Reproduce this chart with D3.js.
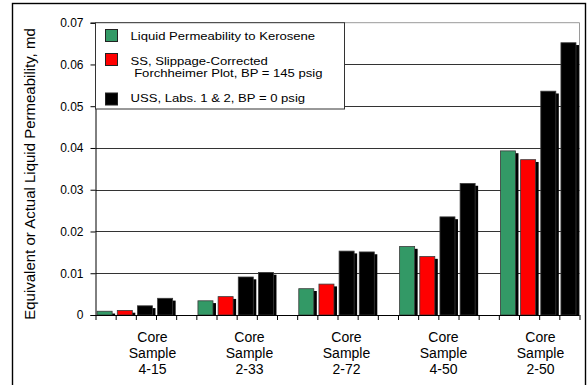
<!DOCTYPE html>
<html>
<head>
<meta charset="utf-8">
<script src="https://cdn.jsdelivr.net/npm/d3@7"></script>
<style>
  html, body { margin: 0; padding: 0; background: #fff; }
  svg { display: block; font-family: "Liberation Sans", Arial, sans-serif; }
</style>
</head>
<body>
<svg id="chart" width="588" height="385"></svg>
<script>
// Core samples and measured permeabilities (md)
const categories = ["4-15", "2-33", "2-72", "4-50", "2-50"];
const kerosene   = [0.0009, 0.0034, 0.0063, 0.0164, 0.0393];
const ssCorrected = [0.0011, 0.0044, 0.0074, 0.0140, 0.0372];
const ussLab1    = [0.0022, 0.0091, 0.0153, 0.0235, 0.0536];
const ussLab2    = [0.0040, 0.0102, 0.0151, 0.0315, 0.0652];
const yTicks = [0, 0.01, 0.02, 0.03, 0.04, 0.05, 0.06, 0.07];
const legendLabels = [
  ["Liquid Permeability to Kerosene"],
  ["SS, Slippage-Corrected", " Forchheimer Plot, BP = 145 psig"],
  ["USS, Labs. 1 & 2, BP = 0 psig"]
];

const series = [
  { values: kerosene,    color: "#339966" },
  { values: ssCorrected, color: "#ff0000" },
  { values: ussLab1,     color: "#000000" },
  { values: ussLab2,     color: "#000000" }
];

const svg = d3.select("#chart");
const plot = { left: 95.5, right: 579.5, top: 22.7, bottom: 315 };
const slotsPerGroup = 5;           // four bars plus one empty spacer slot
const nSlots = categories.length * slotsPerGroup - 1;

// chart frame
svg.append("rect")
  .attr("x", 12.5).attr("y", 3.5)
  .attr("width", 573).attr("height", 395)
  .attr("fill", "#fff").attr("stroke", "#000").attr("stroke-width", 1.4);

const y = d3.scaleLinear().domain([0, 0.07]).range([plot.bottom, plot.top]);
const xSlot = d3.scaleLinear().domain([0, nSlots]).range([plot.left, plot.right]);
const slotW = xSlot(1) - xSlot(0);
const xLabel = d3.scalePoint().domain(categories).range([152.5, 540.5]);

// plot area border (top & right)
svg.append("path")
  .attr("d", `M${plot.left},${plot.top}H${plot.right}V${plot.bottom}`)
  .attr("fill", "none").attr("stroke", "#9a9a9a").attr("stroke-width", 1);

// horizontal gridlines
svg.append("g").selectAll("line")
  .data(yTicks.filter(v => v > 0 && v < 0.07))
  .join("line")
  .attr("x1", plot.left).attr("x2", plot.right)
  .attr("y1", d => Math.round(y(d)) + 0.5).attr("y2", d => Math.round(y(d)) + 0.5)
  .attr("stroke", "#333").attr("stroke-width", 1);

// bars with drop shadow
const bars = [];
series.forEach((s, si) => {
  s.values.forEach((v, gi) => {
    bars.push({ slot: gi * slotsPerGroup + si, value: v, color: s.color });
  });
});
const barW = slotW * 0.745;
const barOff = slotW * 0.08;
const gBars = svg.append("g");
gBars.selectAll("rect.shadow")
  .data(bars).join("rect").attr("class", "shadow")
  .attr("x", d => xSlot(d.slot) + barOff + 3)
  .attr("y", d => y(d.value) + 2.3)
  .attr("width", barW)
  .attr("height", d => Math.max(0, y(0) - y(d.value) - 2.3))
  .attr("fill", "#000");
gBars.selectAll("rect.bar")
  .data(bars).join("rect").attr("class", "bar")
  .attr("x", d => xSlot(d.slot) + barOff)
  .attr("y", d => y(d.value))
  .attr("width", barW)
  .attr("height", d => y(0) - y(d.value))
  .attr("fill", d => d.color)
  .attr("stroke", "#3a3a3a").attr("stroke-width", 0.8);

// y axis
const yAxis = d3.axisLeft(y).tickValues(yTicks).tickSize(5).tickPadding(7)
  .tickFormat(d => d === 0 ? "0" : d3.format(".2f")(d));
const gy = svg.append("g").attr("transform", `translate(${plot.left},0)`).call(yAxis);
gy.select(".domain").attr("stroke", "#000");
gy.selectAll(".tick line").attr("stroke", "#000");
gy.selectAll(".tick text").attr("font-size", 12).attr("font-family", "Liberation Sans, Arial, sans-serif").attr("fill", "#000");

// x axis: one tick per slot boundary
const xAxis = d3.axisBottom(xSlot).tickValues(d3.range(nSlots + 1)).tickSize(5).tickFormat("");
const gx = svg.append("g").attr("transform", `translate(0,${plot.bottom})`).call(xAxis);
gx.select(".domain").attr("stroke", "#000").attr("d", `M${plot.left},0.5H${plot.right}`);
gx.selectAll(".tick line").attr("stroke", "#000");

// category labels
const gLab = svg.append("g").attr("font-size", 14).attr("text-anchor", "middle").attr("fill", "#000");
categories.forEach(c => {
  const t = gLab.append("text").attr("x", xLabel(c)).attr("y", 341.7);
  ["Core", "Sample", c].forEach((line, i) => {
    t.append("tspan").attr("x", xLabel(c)).attr("dy", i === 0 ? 0 : 16.3).text(line);
  });
});

// y axis title
svg.append("text")
  .attr("transform", "translate(35,174) rotate(-90)")
  .attr("text-anchor", "middle").attr("font-size", 15).attr("fill", "#000")
  .text("Equivalent or Actual Liquid Permeability, md");

// legend
const lg = svg.append("g");
lg.append("rect")
  .attr("x", plot.left).attr("y", plot.top)
  .attr("width", 344.5 - plot.left).attr("height", 109 - plot.top)
  .attr("fill", "#fff").attr("stroke", "#333").attr("stroke-width", 1);
const swatchY = [29.5, 53.5, 93];
const textY = [[40], [65, 77.3], [101.7]];
series.slice(0, 3).forEach((s, i) => {
  lg.append("rect")
    .attr("x", 105.5).attr("y", swatchY[i]).attr("width", 12).attr("height", 12)
    .attr("fill", s.color).attr("stroke", "#222").attr("stroke-width", 1);
  legendLabels[i].forEach((line, j) => {
    // legend type is set slightly wide: 11px glyphs stretched horizontally
    lg.append("text")
      .attr("transform", `translate(130.5,${textY[i][j]}) scale(1.19,1)`)
      .attr("font-size", 11).attr("fill", "#000")
      .attr("xml:space", "preserve")
      .style("white-space", "pre")
      .text(line);
  });
});
</script>
</body>
</html>
